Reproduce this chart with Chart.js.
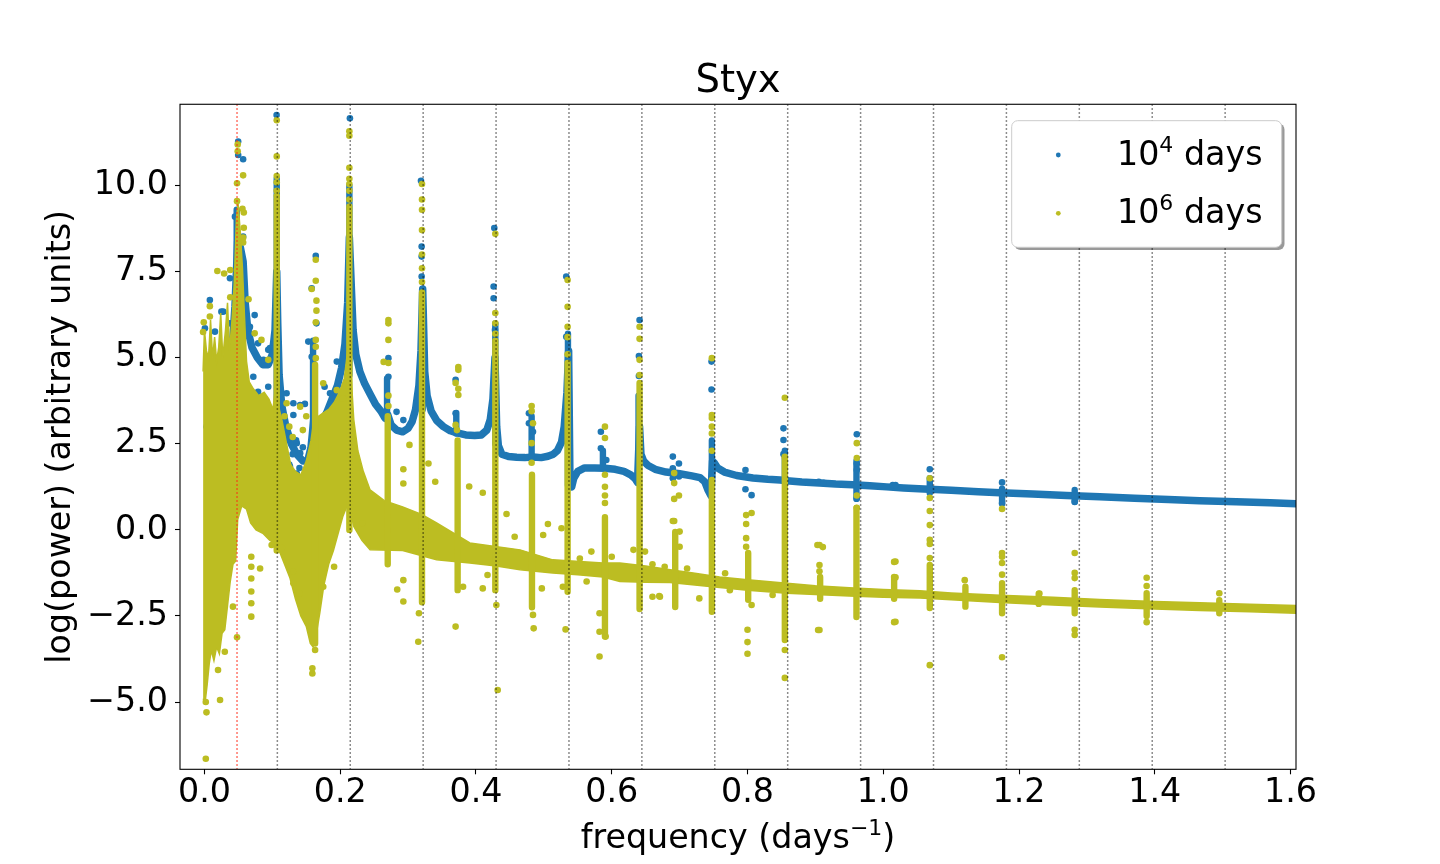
<!DOCTYPE html>
<html lang="en">
<head>
<meta charset="UTF-8">
<title>Styx</title>
<style>
    body { margin: 0; background: #ffffff; }
    canvas { display: block; }
</style>
</head>
<body>
<canvas id="chart" width="1440" height="864"></canvas>
<script src="https://cdn.jsdelivr.net/npm/chart.js"></script>
<script>
// values (frequency in days^-1, log power)
const styxFreq = [0.048];
const harmonicFreqs = [0.1074, 0.2148, 0.3222, 0.4296, 0.537, 0.6444, 0.7518,
                       0.8592, 0.9666, 1.074, 1.1814, 1.2888, 1.3962, 1.5036];

// 10^4 days run: dense baseline of the spectrum
const blueBandX = [0.004,0.015,0.030,0.040,0.045,0.049,0.053,0.057,0.060,0.064,
    0.070,0.078,0.086,0.094,0.100,0.104,0.1065,0.108,0.110,0.114,
    0.120,0.128,0.136,0.145,0.152,0.157,0.161,0.165,0.172,0.180,
    0.188,0.196,0.202,0.207,0.211,0.2135,0.2165,0.219,0.223,0.229,
    0.236,0.244,0.252,0.260,0.266,0.270,0.275,0.283,0.292,0.300,
    0.306,0.311,0.316,0.319,0.3215,0.3245,0.328,0.334,0.342,0.352,
    0.362,0.372,0.385,0.398,0.408,0.416,0.421,0.425,0.428,0.4305,
    0.433,0.438,0.448,0.460,0.472,0.484,0.496,0.506,0.514,0.520,
    0.526,0.530,0.534,0.5365,0.5385,0.541,0.544,0.550,0.560,0.575,
    0.590,0.605,0.618,0.628,0.634,0.638,0.641,0.643,0.647,0.653,
    0.664,0.680,0.700,0.718,0.730,0.737,0.742,0.746,0.7485,0.751,
    0.756,0.766,0.784,0.808,0.830,0.848,0.858,0.880,0.906,0.930,
    0.955,0.980,1.005,1.030,1.060,1.100,1.140,1.172,1.220,1.270,
    1.319,1.370,1.420,1.466,1.520,1.570,1.610];
const blueBandY = [3.0,3.9,4.2,5.0,6.5,8.4,8.2,7.8,6.6,5.8,
    5.3,5.0,4.8,4.8,5.1,5.8,7.5,6.0,4.5,3.6,
    3.0,2.5,2.2,2.0,2.0,2.4,3.2,2.7,3.1,3.4,
    3.8,4.2,4.7,5.4,6.6,8.5,7.0,5.8,5.1,4.6,
    4.25,3.95,3.65,3.45,3.25,3.35,3.05,2.9,2.85,2.95,
    3.15,3.5,4.2,5.2,7.0,4.6,3.9,3.45,3.18,3.0,
    2.88,2.82,2.76,2.74,2.76,2.9,3.2,3.8,5.0,3.0,
    2.45,2.2,2.13,2.11,2.1,2.12,2.1,2.14,2.2,2.3,
    2.55,3.0,4.0,5.2,1.3,1.25,1.5,1.7,1.8,1.8,
    1.79,1.76,1.7,1.6,1.5,1.38,3.0,2.2,2.0,1.88,
    1.76,1.68,1.63,1.57,1.52,1.4,1.15,1.0,2.0,1.95,
    1.8,1.68,1.58,1.51,1.47,1.45,1.43,1.39,1.36,1.33,
    1.31,1.28,1.25,1.22,1.19,1.15,1.11,1.08,1.04,1.00,
    0.96,0.92,0.88,0.85,0.82,0.79,0.76];

// 10^4 days run: vertical runs of points at the peaks
const blueColX  = [0.0475,0.1065,0.160,0.2135,0.269,0.3215,0.371,0.4285,0.482,0.5355,0.587,0.6395,0.7475,0.855,0.9605,1.0685,1.175,1.282];
const blueColLo = [7.0,3.5,2.2,4.5,3.2,3.5,2.8,2.5,2.1,1.3,1.8,2.0,1.0,1.4,0.9,1.07,0.78,0.81];
const blueColHi = [9.3,10.2,5.5,10.0,4.4,6.3,3.4,6.0,3.3,5.7,2.3,3.9,2.6,2.3,2.0,1.5,1.2,1.16];

// 10^4 days run: single points
const blueDotX = [0.0497,0.0497,0.057,0.045,0.057,0.074,0.0376,0.008,0.0007,0.0277,
    0.067,0.1063,0.2143,0.164,0.158,0.165,0.0965,0.131,0.141,0.148,
    0.131,0.025,0.0155,0.0376,0.066,0.079,0.094,0.087,0.072,0.079,
    0.094,0.121,0.121,0.123,0.136,0.141,0.126,0.136,0.153,0.158,
    0.177,0.185,0.195,0.187,0.180,0.283,0.293,0.271,0.271,0.370,
    0.370,0.426,0.426,0.428,0.320,0.320,0.320,0.478,0.478,0.484,
    0.533,0.533,0.584,0.584,0.592,0.319,0.427,0.641,0.640,0.640,
    0.690,0.690,0.690,0.699,0.699,0.747,0.747,0.797,0.797,0.806,
    0.853,0.853,0.853,0.905,0.912,0.961,0.961,0.961,0.961,1.014,
    1.018,1.0685,1.175,1.175,1.282,0.125,0.130,0.140,0.135,0.145,
    0.118];
const blueDotY = [11.28,10.89,10.77,9.1,8.52,6.24,7.31,6.68,5.86,6.34,
    5.9,12.05,11.96,7.96,7.02,6.0,5.28,3.68,3.63,3.66,
    3.34,6.34,5.76,6.0,5.86,5.42,5.23,4.94,4.45,4.01,
    4.16,3.97,3.0,2.61,2.52,2.23,1.84,1.64,5.47,5.03,
    4.16,3.97,4.89,3.68,3.29,3.43,3.19,4.99,4.45,4.36,
    3.39,7.07,6.73,5.81,8.23,7.94,7.36,3.39,3.1,2.85,
    7.36,5.61,2.85,2.37,2.03,10.14,8.77,6.1,5.05,4.47,
    2.13,1.79,1.5,1.93,1.55,4.89,4.08,1.74,1.18,1.01,
    2.95,2.61,2.2,1.4,1.37,2.78,1.93,1.74,0.92,1.3,
    1.3,1.76,1.38,0.77,0.82,1.9,2.2,1.8,2.6,2.4,
    2.2];

// 10^6 days run: upper and lower edge of the dense cloud
const yellowTopX = [-0.002,0.000,0.003,0.006,0.009,0.012,0.015,0.018,0.021,0.024,
    0.027,0.031,0.034,0.037,0.041,0.044,0.047,0.0495,0.053,0.056,
    0.059,0.062,0.066,0.072,0.080,0.088,0.095,0.101,0.105,0.109,
    0.114,0.120,0.127,0.134,0.142,0.150,0.157,0.162,0.168,0.175,
    0.183,0.191,0.199,0.206,0.211,0.2135,0.216,0.220,0.226,0.234,
    0.244,0.265,0.292,0.320,0.342,0.391,0.465,0.513,0.587,0.612,
    0.650,0.686,0.720,0.759,0.800,0.858,0.900,0.950,1.000,1.054,
    1.100,1.172,1.250,1.319,1.400,1.466,1.540,1.610];
const yellowTopY = [4.6,5.8,5.2,5.0,6.1,5.0,5.6,4.9,5.3,6.3,
    5.0,5.8,6.6,5.2,6.2,7.2,9.0,9.5,8.6,7.6,
    6.2,4.9,4.3,4.1,3.9,4.0,3.8,3.5,4.2,3.6,
    3.2,2.6,1.9,1.7,1.6,2.0,2.6,3.3,3.3,3.4,
    3.5,3.7,4.0,4.4,5.2,6.5,4.5,3.2,2.3,1.7,
    1.16,0.85,0.67,0.45,0.2,-0.38,-0.58,-0.87,-0.96,-0.96,
    -1.05,-1.16,-1.25,-1.37,-1.45,-1.55,-1.62,-1.68,-1.73,-1.77,
    -1.83,-1.90,-1.96,-2.02,-2.08,-2.12,-2.16,-2.2];
const yellowBottomX = [-0.002,0.001,0.004,0.007,0.010,0.014,0.018,0.022,0.026,0.030,
    0.034,0.038,0.042,0.046,0.049,0.055,0.062,0.068,0.076,0.086,
    0.096,0.104,0.110,0.118,0.126,0.134,0.142,0.150,0.156,0.160,
    0.165,0.170,0.176,0.183,0.190,0.197,0.204,0.212,0.220,0.232,
    0.244,0.292,0.342,0.391,0.430,0.465,0.513,0.550,0.587,0.612,
    0.650,0.686,0.759,0.800,0.858,0.900,0.950,1.000,1.054,1.100,
    1.172,1.250,1.319,1.400,1.466,1.540,1.610];
const yellowBottomY = [-4.9,-5.0,-4.5,-3.9,-3.5,-3.8,-3.4,-3.6,-3.0,-2.9,
    -2.2,-1.5,-1.0,-0.9,0.3,0.7,0.6,0.2,0.0,-0.1,
    -0.3,-0.4,-0.6,-1.0,-1.4,-2.0,-2.5,-2.8,-3.3,-3.4,
    -3.0,-2.4,-1.6,-1.0,-0.6,-0.1,0.4,0.8,0.1,-0.3,
    -0.58,-0.6,-0.87,-0.96,-1.05,-1.16,-1.25,-1.3,-1.37,-1.5,
    -1.52,-1.53,-1.67,-1.75,-1.84,-1.88,-1.92,-1.96,-1.98,-2.03,
    -2.11,-2.18,-2.24,-2.3,-2.34,-2.38,-2.42];

// 10^6 days run: vertical runs of points at the peaks
const yellowColX  = [0.1065,0.163,0.2135,0.270,0.3205,0.373,0.4285,0.4825,0.535,0.590,0.641,0.6935,0.7475,0.801,0.855,0.907,0.9605,1.016,1.0685,1.121,1.175,1.229,1.282,1.388,1.495];
const yellowColLo = [-0.6,-3.3,0.0,-1.0,-2.1,-1.75,-1.75,-2.25,-1.8,-3.1,-2.3,-2.24,-2.38,-2.03,-3.2,-2.0,-2.53,-2.0,-2.27,-2.23,-2.42,-2.15,-2.42,-2.5,-2.42];
const yellowColHi = [9.6,4.8,9.4,3.3,6.9,2.6,5.5,1.6,4.85,0.37,4.27,-0.06,1.45,-0.67,2.09,-1.37,0.64,-1.4,-1.02,-1.65,-1.55,-1.85,-1.75,-1.84,-2.04];

// 10^6 days run: single points
const yellowDotX = [0.1065,0.1065,0.1065,0.1065,0.1065,0.1065,0.2135,0.2135,0.2135,0.2135,
    0.2135,0.2135,0.2135,0.049,0.049,0.057,0.048,0.048,0.056,0.058,
    0.058,0.057,0.057,0.019,0.029,0.038,0.038,0.008,0.008,-0.001,
    -0.002,0.065,0.074,0.084,0.094,0.164,0.164,0.158,0.165,0.165,
    0.164,0.164,0.164,0.164,0.175,0.195,0.204,0.121,0.141,0.271,
    0.271,0.271,0.264,0.271,0.271,0.271,0.3205,0.3205,0.3205,0.3205,
    0.3205,0.3205,0.3205,0.374,0.374,0.370,0.374,0.374,0.370,0.372,
    0.4285,0.4285,0.4285,0.4285,0.482,0.482,0.484,0.482,0.482,0.535,
    0.535,0.535,0.535,0.535,0.590,0.590,0.590,0.590,0.590,0.590,
    0.641,0.641,0.641,0.641,0.692,0.692,0.692,0.699,0.692,0.7475,
    0.7475,0.7475,0.7475,0.7475,0.7475,0.798,0.798,0.806,0.798,0.798,
    0.806,0.800,0.800,0.800,0.855,0.855,0.855,0.855,0.906,0.911,
    0.906,0.906,0.906,0.961,0.961,0.961,0.961,1.016,1.016,1.016,
    1.0685,1.0685,1.0685,1.0685,1.0685,1.0685,1.0685,1.0685,1.120,1.175,
    1.175,1.175,1.175,1.175,1.175,1.230,1.282,1.282,1.282,1.282,
    1.282,1.388,1.388,1.388,1.495,0.002,0.003,0.002,0.048,0.042,
    0.023,0.020,0.030,0.069,0.069,0.069,0.069,0.069,0.069,0.082,
    0.099,0.114,0.131,0.131,0.140,0.159,0.159,0.163,0.175,0.191,
    0.233,0.293,0.284,0.293,0.315,0.316,0.370,0.381,0.410,0.417,
    0.432,0.430,0.484,0.485,0.497,0.532,0.528,0.582,0.582,0.591,
    0.582,0.563,0.671,0.302,0.293,0.293,0.340,0.330,0.390,0.410,
    0.445,0.506,0.499,0.526,0.457,0.553,0.570,0.600,0.678,0.632,
    0.649,0.660,0.660,0.670,0.711,0.729,0.700,0.700,0.690,0.767,
    0.774,0.837,0.903,0.904,1.018,1.018,1.018,0.125,0.130,0.145,
    0.150,0.118];
const yellowDotY = [11.9,10.85,10.28,10.1,9.85,9.7,11.58,11.45,10.52,10.2,
    10.05,9.85,9.6,11.2,11.0,10.3,10.07,9.55,9.33,9.22,
    8.78,8.49,8.35,7.52,7.45,7.55,6.76,6.5,6.2,6.03,
    5.75,6.7,5.71,5.52,4.94,7.85,7.24,7.0,6.66,6.37,
    6.03,5.52,5.32,4.99,4.26,4.06,3.82,3.68,3.58,6.1,
    6.0,5.52,4.88,4.85,3.9,3.6,10.05,9.6,9.3,8.71,
    8.0,7.6,7.2,4.73,4.65,4.27,4.1,3.92,3.05,2.9,
    8.6,6.3,6.0,5.7,3.6,3.45,3.1,2.52,1.95,7.26,
    6.48,5.9,5.6,5.1,3.0,2.67,1.6,1.25,1.0,0.78,
    5.9,5.55,4.94,4.5,1.65,1.36,0.9,1.0,0.26,4.99,
    3.34,3.25,3.0,2.8,2.3,0.43,0.17,0.49,-0.24,-0.49,
    -2.18,-2.9,-3.26,-3.6,3.84,2.12,-3.49,-4.3,-0.44,-0.5,
    -1.02,-1.2,-2.91,2.52,2.09,1.0,0.64,-0.93,-1.37,-2.68,
    1.5,0.93,0.55,0.14,-0.29,-0.41,-0.82,-3.93,-1.46,0.61,
    -0.67,-0.78,-0.96,-1.3,-3.7,-1.85,-0.67,-1.25,-1.4,-2.9,
    -3.05,-1.39,-1.63,-2.68,-1.84,-6.65,-5.3,-5.0,-3.12,-2.23,
    -4.94,-4.07,-3.54,-0.78,-1.07,-1.41,-1.79,-2.13,-2.52,-1.12,
    -0.44,-0.53,-1.21,-1.55,-1.84,-4.02,-4.17,-3.49,-1.65,-1.07,
    0.19,-2.08,-1.73,-1.46,-3.25,-2.42,-2.81,-1.65,-1.7,-1.31,
    -4.65,-2.18,-2.47,-2.86,-1.7,-2.89,-1.65,-3.68,-2.96,-3.1,
    -2.42,-1.5,-1.94,2.47,1.76,1.35,1.4,1.93,1.26,1.08,
    0.46,0.17,-0.15,0.05,-0.2,-0.83,-0.63,-0.78,-1.07,-0.58,
    -0.63,-1.0,-1.94,-1.92,-1.12,-1.99,-0.05,-0.49,0.26,-1.26,
    -1.75,-1.89,-0.44,-2.91,-0.92,-1.38,-2.67,3.0,2.7,2.9,
    3.3,3.3];

const BLUE = '#1f77b4';
const OLIVE = '#bcbd22';
const FONT = "'DejaVu Sans', 'Noto Sans', sans-serif";
const X_TITLE = 'frequency (days\u207B\u00B9)';

function pairs(xs, ys) {
    return xs.map((x, i) => ({x: x, y: ys[i]}));
}
// each column becomes a two point segment, the null breaks the line
function columns(xs, lo, hi) {
    const out = [];
    xs.forEach((x, i) => {
        out.push({x: x, y: lo[i]}, {x: x, y: hi[i]}, {x: x, y: null});
    });
    return out;
}

// split a label on unicode superscripts so they can be drawn raised
const SUP = {'\u2070':'0','\u00B9':'1','\u00B2':'2','\u00B3':'3','\u2074':'4',
             '\u2075':'5','\u2076':'6','\u2077':'7','\u2078':'8','\u2079':'9','\u207B':'\u2212'};
function splitSup(text) {
    const parts = [];
    for (const ch of text) {
        const sup = ch in SUP;
        const t = sup ? SUP[ch] : ch;
        const last = parts[parts.length - 1];
        if (last && last.sup === sup) last.t += t;
        else parts.push({t: t, sup: sup});
    }
    return parts;
}
function drawRich(ctx, text, x, y, size, align) {
    const parts = splitSup(text);
    const supSize = size * 0.66;
    const fontFor = p => (p.sup ? supSize : size) + 'px ' + FONT;
    let total = 0;
    parts.forEach(p => { ctx.font = fontFor(p); p.w = ctx.measureText(p.t).width; total += p.w; });
    let cx = align === 'center' ? x - total / 2 : x;
    ctx.textAlign = 'left';
    ctx.textBaseline = 'alphabetic';
    parts.forEach(p => {
        ctx.font = fontFor(p);
        ctx.fillText(p.t, cx, p.sup ? y - size * 0.4 : y);
        cx += p.w;
    });
}

// dotted vertical guides at the Styx frequency and its harmonics, plus the frame
const guideLines = {
    id: 'guideLines',
    afterDatasetsDraw(chart) {
        const ctx = chart.ctx;
        const a = chart.chartArea;
        const xs = chart.scales.x;
        ctx.save();
        ctx.beginPath();
        ctx.rect(a.left, a.top, a.right - a.left, a.bottom - a.top);
        ctx.clip();
        ctx.lineWidth = 1.5;
        ctx.setLineDash([1.5, 2.5]);
        const draw = (v, color) => {
            const px = xs.getPixelForValue(v);
            ctx.strokeStyle = color;
            ctx.beginPath();
            ctx.moveTo(px, a.top);
            ctx.lineTo(px, a.bottom);
            ctx.stroke();
        };
        harmonicFreqs.forEach(v => draw(v, 'rgba(0,0,0,0.6)'));
        styxFreq.forEach(v => draw(v, 'rgba(255,40,20,0.85)'));
        ctx.restore();

        ctx.save();
        ctx.strokeStyle = '#000';
        ctx.lineWidth = 1.1;
        ctx.strokeRect(a.left, a.top, a.right - a.left, a.bottom - a.top);
        ctx.restore();
    }
};

// legend box in the upper right corner of the axes, x axis title with superscript
const boxLegend = {
    id: 'boxLegend',
    afterDraw(chart) {
        const ctx = chart.ctx;
        const a = chart.chartArea;
        const items = chart.data.datasets.filter(d => d.label);
        const w = 270, h = 126.6;
        const left = a.right - 14.3 - w;
        const top = a.top + 16.4;
        ctx.save();
        ctx.fillStyle = 'rgba(0,0,0,0.4)';
        ctx.beginPath();
        ctx.roundRect(left + 2.8, top + 2.8, w, h, 6);
        ctx.fill();
        ctx.fillStyle = '#ffffff';
        ctx.beginPath();
        ctx.roundRect(left, top, w, h, 6);
        ctx.fill();
        ctx.strokeStyle = '#cccccc';
        ctx.lineWidth = 1;
        ctx.stroke();
        items.forEach((d, i) => {
            const cy = top + 34.3 + i * 58.3;
            ctx.fillStyle = d.backgroundColor;
            ctx.beginPath();
            ctx.arc(left + 46.6, cy, 2.4, 0, Math.PI * 2);
            ctx.fill();
            ctx.fillStyle = '#000';
            drawRich(ctx, d.label, left + 105.3, cy + 10, 33.3, 'left');
        });

        ctx.fillStyle = '#000';
        drawRich(ctx, X_TITLE, (a.left + a.right) / 2, 848, 33.3, 'center');
        ctx.restore();
    }
};

const tickFont = {family: FONT, size: 33.3, lineHeight: 1.0};
const titleFont = {family: FONT, size: 33.3, lineHeight: 1.2};

new Chart(document.getElementById('chart'), {
    type: 'scatter',
    data: {
        datasets: [
            {
                label: '10\u2074 days',
                data: pairs(blueDotX, blueDotY),
                backgroundColor: BLUE,
                pointRadius: 3.3,
                pointBorderWidth: 0,
                order: 4
            },
            {
                label: '10\u2076 days',
                data: pairs(yellowDotX, yellowDotY),
                backgroundColor: OLIVE,
                pointRadius: 3.3,
                pointBorderWidth: 0,
                order: 1
            },
            {
                type: 'line',
                data: pairs(blueBandX, blueBandY),
                borderColor: BLUE,
                borderWidth: 7.5,
                borderJoinStyle: 'round',
                borderCapStyle: 'round',
                pointRadius: 0,
                fill: false,
                order: 6
            },
            {
                type: 'line',
                data: columns(blueColX, blueColLo, blueColHi),
                borderColor: BLUE,
                borderWidth: 6.4,
                borderCapStyle: 'round',
                pointRadius: 0,
                fill: false,
                order: 5
            },
            {
                type: 'line',
                data: pairs(yellowTopX, yellowTopY),
                borderColor: OLIVE,
                backgroundColor: OLIVE,
                borderWidth: 1.5,
                pointRadius: 0,
                fill: '+1',
                order: 3
            },
            {
                type: 'line',
                data: pairs(yellowBottomX, yellowBottomY),
                borderColor: OLIVE,
                borderWidth: 1.5,
                pointRadius: 0,
                fill: false,
                order: 3
            },
            {
                type: 'line',
                data: columns(yellowColX, yellowColLo, yellowColHi),
                borderColor: OLIVE,
                borderWidth: 6.4,
                borderCapStyle: 'round',
                pointRadius: 0,
                fill: false,
                order: 2
            }
        ]
    },
    options: {
        responsive: false,
        devicePixelRatio: 1,
        animation: false,
        events: [],
        layout: { padding: {left: 0, right: 144, top: 0, bottom: 0} },
        plugins: {
            legend: { display: false },
            tooltip: { enabled: false },
            title: {
                display: true,
                text: 'Styx',
                fullSize: false,
                color: '#000',
                font: {family: FONT, size: 38.5, weight: 'normal', lineHeight: 1.15},
                padding: {top: 60, bottom: 0}
            }
        },
        scales: {
            x: {
                type: 'linear',
                min: -0.036,
                max: 1.608,
                afterFit: s => { s.height = 94.7; },
                border: { display: false },
                grid: { drawOnChartArea: false, drawTicks: true, tickLength: 5, tickColor: '#000', tickWidth: 1.1 },
                ticks: {
                    stepSize: 0.2,
                    includeBounds: false,
                    autoSkip: false,
                    maxRotation: 0,
                    padding: 2.2,
                    color: '#000',
                    font: tickFont,
                    callback: v => v.toFixed(1)
                },
                title: { display: false }
            },
            y: {
                type: 'linear',
                min: -6.955,
                max: 12.365,
                afterFit: s => { s.width = 180; },
                border: { display: false },
                grid: { drawOnChartArea: false, drawTicks: true, tickLength: 5, tickColor: '#000', tickWidth: 1.1 },
                ticks: {
                    stepSize: 2.5,
                    includeBounds: false,
                    autoSkip: false,
                    padding: 7,
                    color: '#000',
                    font: tickFont,
                    callback: v => (v < 0 ? '\u2212' : '') + Math.abs(v).toFixed(1)
                },
                title: {
                    display: true,
                    text: 'log(power) (arbitrary units)',
                    color: '#000',
                    font: titleFont,
                    padding: {top: 41.6, bottom: 0}
                }
            }
        }
    },
    plugins: [guideLines, boxLegend]
});
</script>
</body>
</html>
